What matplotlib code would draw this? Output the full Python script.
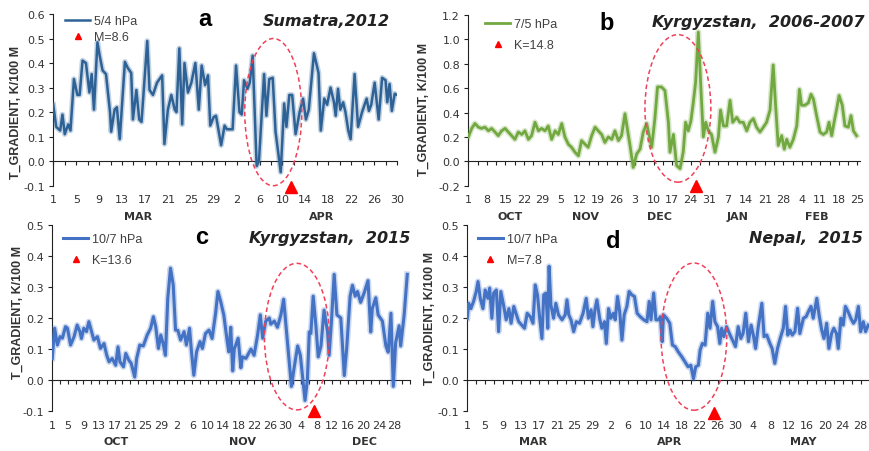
import numpy as np
import matplotlib
matplotlib.use('Agg')
import matplotlib.pyplot as plt
import matplotlib.patheffects as pe
from matplotlib.patches import Ellipse
from matplotlib.lines import Line2D

W, H = 870, 452

# ---- panel a: Sumatra 2012, days from 1 MAR
a_day = [0.0, 0.5, 1.2, 1.6, 2.0, 2.6, 3.0, 3.6, 4.2, 4.6, 5.1, 5.7, 6.3, 6.7, 7.1, 7.7, 8.1, 8.6, 9.2, 9.9,
         10.1, 10.7, 11.1, 11.6, 12.5, 13.0, 13.6, 13.9, 14.5, 15.0, 15.4, 16.4, 16.8, 17.4, 18.1, 19.0, 19.4,
         20.0, 20.6, 21.2, 21.5, 22.0, 22.5, 22.9, 23.5, 24.1, 24.8, 25.4, 25.9, 26.5, 27.0, 27.4, 28.0, 28.4,
         29.3, 29.9, 30.3, 31.3, 31.9, 32.5, 32.9, 33.3, 33.9, 34.3, 34.8, 35.5, 35.9, 36.8, 37.2, 37.7, 38.3,
         38.8, 39.7, 40.3, 40.7, 41.2, 41.7, 42.3, 43.0, 43.6, 44.1, 44.6, 45.5, 46.3, 46.7, 47.3, 47.8, 48.4,
         49.0, 49.3, 49.7, 50.1, 50.6, 51.0, 51.5, 51.9, 52.6, 53.2, 53.9, 54.7, 55.1, 55.5, 56.1, 56.8, 57.4,
         58.0, 58.3, 58.7, 59.1, 59.6, 60.0]
a_val = [0.23, 0.14, 0.125, 0.19, 0.11, 0.15, 0.125, 0.335, 0.27, 0.27, 0.41, 0.40, 0.28, 0.355, 0.21, 0.485,
         0.43, 0.37, 0.355, 0.20, 0.12, 0.21, 0.22, 0.09, 0.405, 0.38, 0.36, 0.17, 0.29, 0.17, 0.16, 0.49, 0.29,
         0.27, 0.32, 0.35, 0.07, 0.21, 0.27, 0.21, 0.20, 0.46, 0.15, 0.40, 0.28, 0.32, 0.40, 0.21, 0.39, 0.31,
         0.35, 0.145, 0.18, 0.185, 0.065, 0.145, 0.13, 0.13, 0.39, 0.20, 0.19, 0.33, 0.295, 0.32, 0.43, -0.02,
         0.0, 0.355, 0.185, 0.335, 0.34, 0.12, -0.045, 0.235, 0.14, 0.27, 0.27, 0.11, 0.20, 0.255, 0.17, 0.21,
         0.44, 0.36, 0.125, 0.255, 0.23, 0.30, 0.24, 0.185, 0.295, 0.21, 0.24, 0.20, 0.125, 0.09, 0.355, 0.14,
         0.20, 0.255, 0.205, 0.23, 0.32, 0.17, 0.34, 0.33, 0.24, 0.315, 0.205, 0.275, 0.27]
a_labels = ['1', '5', '9', '13', '17', '21', '25', '29', '2', '6', '10', '14', '18', '22', '26', '30']
a_months = ['MAR', 'APR']
a_month_day = [14.8, 46.9]

# ---- panel b: Kyrgyzstan 2006-2007, days from 1 OCT
b_day = [0, 1.3, 2.5, 3.8, 5.0, 6.3, 7.6, 8.8, 10.1, 11.3, 12.6, 13.9, 15.1, 16.4, 17.6, 18.9, 20.2, 21.4,
         22.7, 23.9, 25.2, 26.5, 27.7, 29.0, 30.2, 31.5, 32.8, 34.0, 35.3, 36.5, 37.8, 39.0, 40.3, 41.6, 42.8,
         44.1, 45.3, 46.6, 47.9, 49.1, 50.4, 51.6, 52.9, 54.2, 55.4, 56.7, 57.9, 59.2, 60.5, 61.1, 62.3, 63.6,
         64.9, 66.1, 67.4, 69.3, 70.5, 71.5, 73.0, 74.3, 75.6, 76.2, 77.5, 78.7, 80.0, 81.2, 82.1, 83.1, 84.1,
         85.0, 85.9, 86.9, 87.8, 88.8, 89.7, 90.7, 91.9, 93.2, 94.5, 95.3, 96.4, 97.6, 98.9, 99.9, 101.4, 102.6,
         103.9, 105.2, 106.4, 107.7, 108.9, 110.2, 111.5, 112.7, 114.0, 115.2, 116.1, 117.1, 118.4, 119.4,
         120.3, 121.5, 122.8, 124.1, 125.1, 125.9, 127.2, 128.5, 129.5, 130.4, 131.6, 132.9, 134.1, 135.4,
         136.3, 137.3, 138.2, 139.2, 140.1, 141.3, 142.3, 143.6, 144.6, 145.5, 146.7]
b_val = [0.20, 0.27, 0.31, 0.28, 0.27, 0.28, 0.25, 0.27, 0.24, 0.21, 0.25, 0.27, 0.24, 0.21, 0.18, 0.24, 0.22,
         0.25, 0.18, 0.21, 0.32, 0.25, 0.27, 0.25, 0.29, 0.18, 0.25, 0.22, 0.31, 0.20, 0.14, 0.115, 0.075, 0.045,
         0.17, 0.14, 0.115, 0.21, 0.28, 0.25, 0.22, 0.155, 0.20, 0.18, 0.25, 0.17, 0.21, 0.39, 0.21, 0.13, -0.05,
         0.06, 0.10, 0.24, 0.31, 0.115, 0.35, 0.61, 0.61, 0.58, 0.32, 0.075, 0.22, -0.035, -0.06, 0.075, 0.32,
         0.25, 0.33, 0.48, 0.65, 1.06, 0.64, 0.20, 0.32, 0.25, 0.22, 0.075, 0.20, 0.42, 0.29, 0.29, 0.50, 0.32,
         0.36, 0.32, 0.32, 0.25, 0.32, 0.35, 0.28, 0.24, 0.28, 0.32, 0.42, 0.79, 0.46, 0.13, 0.21, 0.10, 0.18,
         0.115, 0.18, 0.29, 0.59, 0.46, 0.46, 0.48, 0.55, 0.51, 0.375, 0.24, 0.22, 0.24, 0.32, 0.21, 0.32, 0.43,
         0.54, 0.46, 0.29, 0.28, 0.375, 0.25, 0.21]
b_labels = ['1', '8', '15', '22', '29', '5', '12', '19', '26', '3', '10', '17', '24', '31', '7', '14', '21',
            '28', '4', '11', '18', '25']
b_months = ['OCT', 'NOV', 'DEC', 'JAN', 'FEB']
b_month_day = [15.8, 44.1, 72.4, 101.9, 131.7]

# ---- panel c: Kyrgyzstan 2015, days from 1 OCT
c_day = [0.0, 0.6, 1.3, 2.0, 2.6, 3.4, 3.9, 4.7, 5.6, 6.4, 7.1, 7.5, 8.1, 8.8, 9.4, 10.1, 10.7, 11.6, 12.4,
         13.3, 14.0, 14.6, 15.4, 16.3, 16.9, 17.4, 18.3, 18.9, 19.7, 20.3, 21.2, 21.7, 22.5, 23.4, 24.4, 25.3,
         26.0, 26.6, 27.3, 27.9, 28.5, 29.1, 29.7, 30.4, 31.1, 31.7, 32.3, 33.0, 33.9, 34.5, 35.3, 35.8, 36.4,
         37.1, 38.0, 38.6, 39.4, 40.3, 41.1, 42.0, 42.6, 43.3, 44.1, 45.0, 45.4,
         45.9, 46.4, 46.8, 47.8, 48.5, 48.9, 49.8, 51.1, 51.9, 52.8, 53.5, 54.1, 54.9, 55.8, 56.2, 57.1, 57.9,
         58.8, 59.5, 60.5, 61.5, 62.2, 63.1, 63.8, 65.0, 65.6, 66.1, 66.5, 67.1, 67.8, 68.4, 69.1, 69.9, 70.8,
         71.2, 71.8, 72.5, 73.2, 74.2, 75.1, 75.7, 76.6, 77.2, 77.9, 78.5, 79.3, 80.2, 81.2, 81.9, 82.3, 83.2,
         83.8, 84.9, 85.8, 86.4, 87.1, 87.7, 88.3, 89.2, 89.6, 90.5, 91.3]
c_val = [0.07, 0.167, 0.113, 0.14, 0.135, 0.172, 0.167, 0.113, 0.14, 0.177, 0.156, 0.134, 0.167, 0.156, 0.188,
         0.156, 0.129, 0.14, 0.102, 0.118, 0.08, 0.059, 0.07, 0.048, 0.107, 0.059, 0.043, 0.086, 0.064, 0.054,
         0.01, 0.07, 0.113, 0.11, 0.145, 0.167, 0.204, 0.172, 0.102, 0.145, 0.118, 0.08, 0.263, 0.36, 0.306,
         0.161, 0.16, 0.129, 0.156, 0.113, 0.167, 0.091, 0.016, 0.091, 0.124, 0.102, 0.15, 0.161, 0.134, 0.215,
         0.285, 0.253, 0.21, 0.124, 0.091,
         0.17, 0.03, 0.10, 0.135, 0.04, 0.075, 0.07, 0.10, 0.08, 0.145, 0.21, 0.135, 0.19, 0.20, 0.18, 0.19,
         0.17, 0.21, 0.26, 0.12, -0.02, 0.04, 0.11, 0.08, -0.065, 0.0, 0.155, 0.15, 0.27, 0.175, 0.075, 0.11,
         0.225, 0.155, 0.08, 0.19, 0.34, 0.21, 0.20, 0.015, 0.10, 0.27, 0.305, 0.27, 0.285, 0.25, 0.28, 0.32,
         0.155, 0.23, 0.265, 0.21, 0.19, 0.11, 0.09, 0.215, -0.02, 0.12, 0.175, 0.11, 0.21, 0.34]
c_labels = ['1', '5', '9', '13', '17', '21', '25', '29', '2', '6', '10', '14', '18', '22', '26', '30', '4',
            '8', '12', '16', '20', '24', '28']
c_months = ['OCT', 'NOV', 'DEC']
c_month_day = [16.5, 48.9, 80.3]

# ---- panel d: Nepal 2015, days from 1 MAR
d_day = [0.0, 0.3, 0.8, 1.4, 2.0, 2.4, 2.9, 3.5, 4.0, 4.6, 5.0, 5.5, 5.9, 6.5, 7.0, 7.5, 8.1, 8.7, 9.3, 9.8,
         10.4, 11.0, 11.5, 12.2, 12.8, 13.4, 14.1, 14.7, 15.2, 15.7, 16.2, 16.7, 17.1, 17.6, 18.0, 18.3, 18.7,
         19.3, 19.8, 20.4, 21.2, 21.9, 22.3, 22.7, 23.2, 23.8, 24.4, 25.1, 25.9, 26.6, 27.1, 27.7, 28.1, 28.6,
         29.0, 29.6, 30.1, 30.7, 31.1, 31.6, 32.1, 32.7, 33.1, 33.6, 34.1, 34.6, 35.1, 35.7, 36.2, 36.8, 37.4,
         38.0, 38.7, 39.5, 40.2, 40.7, 41.1, 41.7, 42.2, 42.8, 43.2, 43.6,
         43.9, 44.6, 45.3, 45.9, 46.5, 47.2, 48.0, 48.7, 49.4, 50.0, 50.6, 51.1, 51.7, 52.1, 52.6, 53.2, 53.8,
         54.3, 54.9, 55.4, 56.0, 56.5, 56.9, 57.4, 58.0, 58.8, 59.5, 60.0, 60.6, 61.2, 61.7, 62.3, 62.9, 63.5,
         64.0, 64.5, 65.1, 65.9, 66.4, 67.0, 67.7, 68.2, 68.8, 69.4, 70.0, 70.7, 71.2, 71.7, 72.2, 72.7, 73.3,
         73.9, 74.4, 75.2, 75.8, 76.3, 76.9, 77.4, 78.2, 78.7, 79.3, 79.8, 80.4, 80.9, 81.5, 82.0, 82.6, 83.0,
         83.6, 84.1, 84.6, 85.2, 85.8, 86.4, 86.9, 87.5, 88.0, 88.6, 89.1, 89.7]
d_val = [0.199, 0.247, 0.23, 0.253, 0.285, 0.317, 0.263, 0.23, 0.29, 0.263, 0.296, 0.199, 0.28, 0.29, 0.156,
         0.285, 0.242, 0.194, 0.23, 0.183, 0.237, 0.21, 0.188, 0.177, 0.167, 0.215, 0.204, 0.183, 0.306, 0.274,
         0.199, 0.134, 0.274, 0.28, 0.167, 0.366, 0.242, 0.199, 0.247, 0.21, 0.194, 0.21, 0.258, 0.21, 0.194,
         0.156, 0.188, 0.183, 0.215, 0.263, 0.199, 0.226, 0.172, 0.23, 0.258, 0.199, 0.167, 0.188, 0.118, 0.23,
         0.199, 0.215, 0.194, 0.269, 0.22, 0.129, 0.21, 0.237, 0.285, 0.274, 0.269, 0.215, 0.204, 0.194, 0.188,
         0.253, 0.194, 0.28, 0.194, 0.194, 0.204, 0.124,
         0.21, 0.199, 0.183, 0.113, 0.108, 0.091, 0.075, 0.059, 0.043, 0.048, 0.005, 0.043, 0.048, 0.097, 0.118,
         0.113, 0.215, 0.167, 0.253, 0.188, 0.172, 0.118, 0.167, 0.14, 0.172, 0.145, 0.124, 0.108, 0.172, 0.134,
         0.15, 0.215, 0.124, 0.177, 0.145, 0.102, 0.172, 0.247, 0.14, 0.145, 0.118, 0.102, 0.054, 0.102, 0.134,
         0.167, 0.237, 0.145, 0.161, 0.145, 0.156, 0.231, 0.15, 0.199, 0.204, 0.22, 0.237, 0.199, 0.263, 0.21,
         0.161, 0.134, 0.183, 0.102, 0.15, 0.167, 0.15, 0.102, 0.199, 0.177, 0.237, 0.22, 0.199, 0.183, 0.194,
         0.237, 0.156, 0.188, 0.156, 0.177]
d_labels = ['1', '5', '9', '13', '17', '21', '25', '29', '2', '6', '10', '14', '18', '22', '26', '30', '4',
            '8', '12', '16', '20', '24', '28']
d_months = ['MAR', 'APR', 'MAY']
d_month_day = [14.7, 45.3, 75.1]

TICK_C = '#333333'
YLABEL = 'T_GRADIENT, K/100 M'


def box(l, t, r, b):
    return [l / W, 1 - b / H, (r - l) / W, (b - t) / H]


def panel(fig, rect, days, vals, color, lw, xlim, ylim, ystep, xstep, lstep, labels,
          months, month_day, ell, quake, leg_xy, leg_gap, names):
    ax = fig.add_axes(box(*rect))
    ax.set_xlim(*xlim)
    ax.set_ylim(*ylim)
    ax.plot(days, vals, color=color, lw=lw, solid_joinstyle='round', zorder=3,
            path_effects=[pe.Stroke(linewidth=lw + 2.2, foreground=color, alpha=0.28), pe.Normal()])

    for s in ['top', 'right']:
        ax.spines[s].set_visible(False)
    ax.spines['bottom'].set_position(('data', 0))
    for s in ['bottom', 'left']:
        ax.spines[s].set_color('#222222')
        ax.spines[s].set_linewidth(0.8)

    ax.set_xticks(np.arange(0, xlim[1] + 0.01, xstep))
    ax.tick_params(axis='x', direction='out', length=3, width=0.8, color='#222222', labelbottom=False)
    yt = np.round(np.arange(ylim[0], ylim[1] + 1e-6, ystep), 2)
    ax.set_yticks(yt)
    ax.set_yticklabels([f'{v:.1f}' for v in yt], fontsize=8, color=TICK_C)
    ax.tick_params(axis='y', direction='out', length=3, width=0.8, color='#222222', pad=3)

    sec = ax.secondary_xaxis('bottom')
    sec.set_xticks(np.arange(len(labels)) * lstep, labels)
    sec.tick_params(length=0, pad=6, labelsize=8, labelcolor=TICK_C)
    sec.spines['bottom'].set_visible(False)

    for m, d in zip(months, month_day):
        ax.annotate(m, xy=(d, 0), xycoords=('data', 'axes fraction'), xytext=(0, -21.5),
                    textcoords='offset points', ha='center', va='center', fontsize=8,
                    fontweight='bold', color=TICK_C, annotation_clip=False)

    ax.add_patch(Ellipse((ell[0], ell[1]), ell[2], ell[3], fill=False, ec='#F0405A', lw=1.1,
                         ls=(0, (3, 2)), zorder=4, clip_on=False))
    ax.plot([quake[0]], [quake[1]], marker='^', color='#FF0000', ms=8, ls='none', clip_on=False, zorder=6)

    h_line = Line2D([], [], color=color, lw=lw)
    h_tri = Line2D([], [], color='#FF0000', marker='^', ms=4, ls='none')
    ax.legend([h_line, h_tri], names, loc='upper left', bbox_to_anchor=(leg_xy[0] / W, 1 - leg_xy[1] / H),
              bbox_transform=fig.transFigure, frameon=False, borderpad=0, borderaxespad=0,
              handlelength=2.0, handletextpad=0.3, labelspacing=leg_gap,
              prop={'family': 'Liberation Sans', 'size': 9}, labelcolor='#404040')
    return ax


fig = plt.figure(figsize=(W / 100, H / 100), dpi=100)

panel(fig, (53.3, 15, 397, 186.7), a_day, a_val, '#2E6296', 1.8, (0, 60), (-0.1, 0.6), 0.1, 2, 4,
      a_labels, a_months, a_month_day, (38.4, 0.2, 9.95, 0.6), (41.5, -0.105), (65, 16), 0.32,
      ['5/4 hPa', 'M=8.6'])
panel(fig, (468.3, 16, 860, 186.7), b_day, b_val, '#72A840', 2.0, (0, 148), (-0.2, 1.2), 0.2, 3.5, 7,
      b_labels, b_months, b_month_day, (79.2, 0.434, 24.9, 1.21), (86.0, -0.205), (485, 19), 0.75,
      ['7/5 hPa', 'K=14.8'])
panel(fig, (52.3, 225.6, 410, 412.3), c_day, c_val, '#4472C4', 2.2, (0, 92), (-0.1, 0.5), 0.1, 2, 4,
      c_labels, c_months, c_month_day, (62.9, 0.14, 16.7, 0.471), (67.3, -0.1), (63, 234), 0.75,
      ['10/7 hPa', 'K=13.6'])
panel(fig, (467.3, 225.6, 878.5, 412.3), d_day, d_val, '#4472C4', 2.2, (0, 92), (-0.1, 0.5), 0.1, 2, 4,
      d_labels, d_months, d_month_day, (50.7, 0.14, 14.7, 0.473), (55.3, -0.105), (478, 234), 0.75,
      ['10/7 hPa', 'M=7.8'])

# y-axis titles
for x, y in [(16, 112), (424, 109), (18, 312), (430, 318)]:
    fig.text(x / W, 1 - y / H, YLABEL, rotation=90, ha='center', va='center', fontsize=9,
             fontweight='bold', family='Liberation Sans', color='#333333')

# panel letters
for s, x, y in [('a', 205, 20), ('b', 607, 23), ('c', 202, 238), ('d', 613, 242)]:
    fig.text(x / W, 1 - y / H, s, ha='center', va='center', fontsize=17, fontweight='bold',
             family='Liberation Sans', color='black')

# site titles
for s, x, y in [('Sumatra,2012', 390, 22), ('Kyrgyzstan,  2006-2007', 865, 23),
                ('Kyrgyzstan,  2015', 410, 238), ('Nepal,  2015', 863, 238)]:
    fig.text(x / W, 1 - y / H, s, ha='right', va='center', fontsize=11.5, fontweight='bold',
             style='italic', color='#222222')

fig.savefig('out.png', dpi=100)
